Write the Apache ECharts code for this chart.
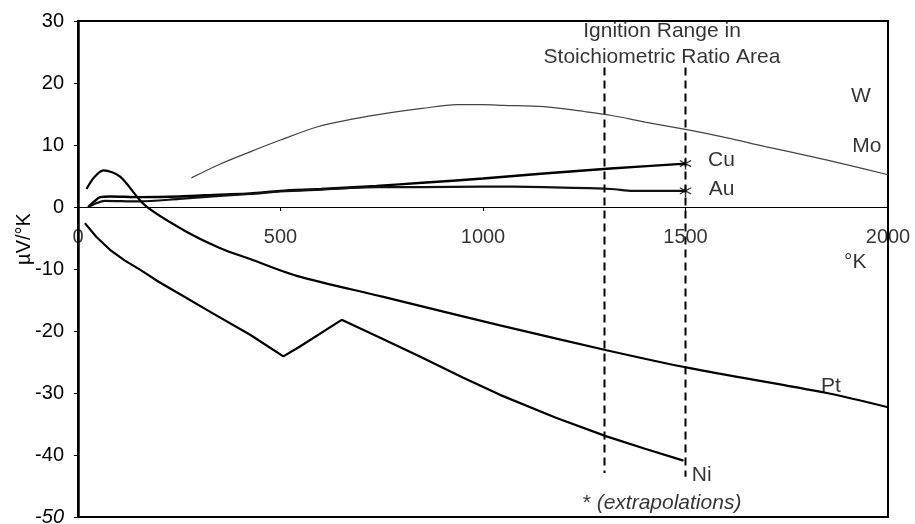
<!DOCTYPE html>
<html>
<head>
<meta charset="utf-8">
<script src="https://cdn.jsdelivr.net/npm/echarts@6/dist/echarts.min.js"></script>
<style>
html,body{margin:0;padding:0;background:#fff}
#chart{width:915px;height:524px}
</style>
</head>
<body>
<div id="chart"></div>
<script>
var FONT = "'Liberation Sans', Arial, sans-serif";

// W / Mo (thin grey curve)
var wX = [280, 350, 425, 500, 590, 680, 760, 850, 935, 1000, 1050, 1150, 1250, 1315, 1400, 1510, 1600, 1700, 1800, 1900, 2000];
var wY = [4.7, 6.9, 8.9, 10.8, 12.9, 14.2, 15.1, 15.9, 16.5, 16.5, 16.4, 16.2, 15.4, 14.8, 13.7, 12.4, 11.2, 9.7, 8.3, 6.8, 5.2];

var cuX = [25, 40, 55, 80, 150, 250, 350, 425, 500, 600, 737, 850, 1000, 1150, 1315, 1500];
var cuY = [0, 0.9, 1.6, 1.7, 1.6, 1.7, 2.0, 2.2, 2.6, 2.9, 3.4, 3.9, 4.6, 5.4, 6.2, 7.0];

var auX = [25, 45, 65, 150, 250, 350, 425, 500, 600, 737, 850, 1000, 1150, 1315, 1370, 1500];
var auY = [0, 0.6, 1.0, 0.9, 1.3, 1.8, 2.1, 2.5, 2.8, 3.2, 3.2, 3.3, 3.2, 2.9, 2.6, 2.6];

var ptX = [21, 40, 63, 104, 165, 260, 350, 425, 540, 754, 935, 1042, 1305, 1511, 1849, 2000];
var ptY = [2.9, 4.8, 5.9, 4.9, 0.3, -3.7, -6.6, -8.4, -11.1, -14.5, -17.4, -19.1, -23.1, -26.0, -30.0, -32.3];

var niX = [17, 45, 79, 115, 153, 200, 250, 334, 425, 507, 548, 651, 750, 844, 950, 1042, 1180, 1305, 1400, 1495];
var niY = [-2.6, -4.8, -6.9, -8.6, -10.1, -12.1, -14.0, -17.2, -20.6, -24.1, -22.5, -18.2, -21.2, -24.1, -27.5, -30.3, -34.0, -37.0, -39.0, -40.9];

// ignition range bounds (dashed)
var ignX = [1300, 1500];
var ignTop = 22.5;
var ignBottom = [-42.9, -43.5];

// extrapolated end points (*)
var starX = [1500, 1500];
var starY = [7.0, 2.6];

// text annotations
var noteText = ['W', 'Mo', 'Cu', 'Au', 'Pt', 'Ni', '°K', 'Ignition Range in', 'Stoichiometric Ratio Area', '* {i|(extrapolations)}'];
var noteX = [1933, 1948, 1589, 1589, 1859, 1540, 1919, 1442, 1442, 1442];
var noteY = [17.8, 9.8, 7.5, 2.8, -28.9, -43.2, -8.9, 28.4, 24.2, -47.7];

var xTicks = [0, 500, 1000, 1500, 2000];
var yTicks = [-50, -40, -30, -20, -10, 0, 10, 20, 30];

function pairs(xs, ys){
    var out = [];
    for(var i = 0; i < xs.length; i++){ out.push([xs[i], ys[i]]) }
    return out;
}

function curve(name, xs, ys, width, color, smooth){
    return {
        name: name,
        type: 'line',
        data: pairs(xs, ys),
        showSymbol: false,
        symbol: 'none',
        smooth: smooth,
        lineStyle: {color: color, width: width},
        z: 3
    };
}

var series = [
    curve('W', wX, wY, 1.2, '#444', 0.3),
    curve('Cu', cuX, cuY, 2.4, '#000', 0.3),
    curve('Au', auX, auY, 2.2, '#111', 0.3),
    curve('Pt', ptX, ptY, 2.2, '#000', 0.3),
    curve('Ni', niX, niY, 2.2, '#000', false)
];
for(var k = 0; k < ignX.length; k++){
    series.push({
        type: 'line',
        data: [[ignX[k], ignTop], [ignX[k], ignBottom[k]]],
        symbol: 'none',
        lineStyle: {color: '#000', width: 2, type: [8, 5]},
        z: 2
    });
}
series.push({
    type: 'scatter',
    data: pairs(starX, starY),
    symbol: 'path://M4.4,0h1.2v10h-1.2z M0,2.9L0.6,1.9L10,7.1L9.4,8.1z M0,7.1L0.6,8.1L10,2.9L9.4,1.9z',
    symbolSize: 12,
    itemStyle: {color: '#000'},
    z: 4
});
var notes = [];
for(var n = 0; n < noteText.length; n++){
    notes.push({value: [noteX[n], noteY[n]], name: noteText[n]});
}
series.push({
    type: 'scatter',
    data: notes,
    symbolSize: 1,
    clip: false,
    itemStyle: {color: 'transparent'},
    label: {
        show: true,
        position: 'inside',
        formatter: function(p){ return p.name },
        color: '#000',
        fontFamily: FONT,
        fontSize: 21,
        rich: {i: {fontStyle: 'italic', fontFamily: FONT, fontSize: 21, color: '#000'}}
    },
    z: 5
});
// x tick labels sit under the zero line
var xLab = [];
for(var t = 0; t < xTicks.length; t++){ xLab.push([xTicks[t], 0]) }
series.push({
    type: 'scatter',
    data: xLab,
    symbolSize: 1,
    clip: false,
    itemStyle: {color: 'transparent'},
    label: {
        show: true,
        position: 'inside',
        offset: [0, 30],
        formatter: function(p){ return String(p.value[0]) },
        color: '#000',
        fontFamily: FONT,
        fontSize: 20
    },
    z: 5
});

var chart = echarts.init(document.getElementById('chart'));
chart.setOption({
    animation: false,
    backgroundColor: '#fff',
    grid: {
        left: 78, right: 27, top: 21, bottom: 7,
        outerBoundsMode: 'none',
        containLabel: false,
        show: true, borderColor: '#000', borderWidth: 2, backgroundColor: 'transparent'
    },
    graphic: [{
        type: 'text',
        x: 24, y: 239,
        rotation: Math.PI / 2,
        style: {text: 'µV/°K', font: '20px ' + FONT, fill: '#000', align: 'center', verticalAlign: 'middle'}
    }],
    xAxis: {
        type: 'value',
        min: xTicks[0], max: xTicks[xTicks.length - 1], interval: 500,
        axisLine: {onZero: true, lineStyle: {color: '#000', width: 1}},
        axisTick: {show: true, inside: false, length: 4, lineStyle: {color: '#000'}},
        splitLine: {show: false},
        axisLabel: {show: false}
    },
    yAxis: {
        type: 'value',
        min: yTicks[0], max: yTicks[yTicks.length - 1], interval: 10,
        axisLine: {show: true, lineStyle: {color: '#000', width: 2.5}},
        axisTick: {show: true, length: 4, lineStyle: {color: '#000'}},
        splitLine: {show: false},
        axisLabel: {
            color: '#000', fontSize: 20, fontFamily: FONT, margin: 14,
            formatter: function(v){ return v === -50 ? '{i|-50}' : String(v) },
            rich: {i: {fontStyle: 'italic', fontSize: 20, fontFamily: FONT, color: '#000'}}
        }
    },
    series: series
});
</script>
</body>
</html>
